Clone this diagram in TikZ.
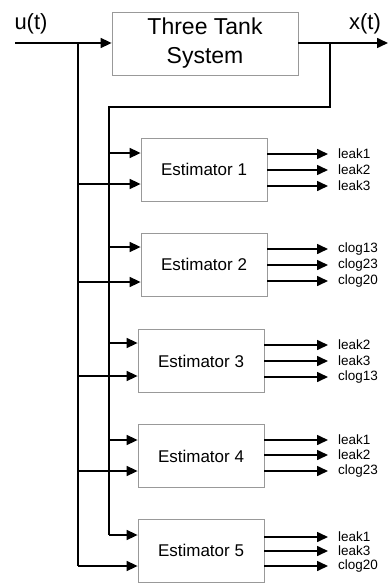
\documentclass[tikz,border=0pt]{standalone}
\usepackage{fontspec}
\setmainfont{Liberation Sans}
\usetikzlibrary{arrows.meta}
\begin{document}
\begin{tikzpicture}[x=1pt,y=-1pt,
  blk/.style={draw=black!40,line width=0.8pt,fill=white,inner sep=0pt,align=center},
  sysbox/.style={blk,minimum width=186pt,minimum height=63pt,font=\fontsize{23}{29}\selectfont},
  estbox/.style={blk,minimum width=126pt,minimum height=63pt,font=\fontsize{17}{20}\selectfont},
  wire/.style={line width=1.6pt,black},
  arr/.style={wire,-{Triangle[length=11pt,width=10pt]}},
  sig/.style={font=\fontsize{22}{26}\selectfont,inner sep=0pt},
  outlbl/.style={font=\fontsize{13.5}{15}\selectfont,anchor=west,inner sep=0pt}]
\useasboundingbox (0,0) rectangle (388,583);
\fill[white] (0,0) rectangle (388,583);

% system
\node[sysbox] (sys) at (205,43.5) {Three Tank\\System};
\coordinate (uin) at (15,43);
\coordinate (xout) at (388,43);
\node[sig] (ulbl) at (31,24) {u(t)};
\node[sig] (xlbl) at (365,24) {x(t)};
\draw[arr] (uin) -- (uin -| sys.west);
\draw[arr] (sys.east |- xout) -- (xout);

% branch points
\coordinate (ub) at (78,43);
\coordinate (xb) at (330,43);
\coordinate (xc) at (330,107);
\coordinate (xd) at (109,107);

% estimators
\node[estbox] (e1) at (204,169.5) {Estimator 1};
\node[estbox] (e2) at (204,264.5) {Estimator 2};
\node[estbox] (e3) at (201,361) {Estimator 3};
\node[estbox] (e4) at (201,456) {Estimator 4};
\node[estbox] (e5) at (201,550.5) {Estimator 5};

% x(t) feedback bus
\draw[wire] (xb) -- (xc) -- (xd) -- (109,535);
% u(t) bus
\draw[wire] (ub) -- (78,566);

% inputs
\foreach \e/\ya/\yb in {e1/153/184, e2/247/282, e3/343/376, e4/440/471, e5/535/566}{
  \coordinate (\e ia) at (109,\ya);
  \coordinate (\e ib) at (78,\yb);
  \draw[arr] (\e ia) -- (\e ia -| \e.west);
  \draw[arr] (\e ib) -- (\e ib -| \e.west);
}

% outputs
\foreach \e/\ya/\yb/\yc/\la/\lb/\lc in {
  e1/154/170/186/leak1/leak2/leak3,
  e2/249/265/281/clog13/clog23/clog20,
  e3/345/361/377/leak2/leak3/clog13,
  e4/440/455/471/leak1/leak2/clog23,
  e5/537/551/566/leak1/leak3/clog20}{
  \coordinate (\e oa) at (328,\ya);
  \coordinate (\e ob) at (328,\yb);
  \coordinate (\e oc) at (328,\yc);
  \draw[arr] (\e oa -| \e.east) -- (\e oa);
  \draw[arr] (\e ob -| \e.east) -- (\e ob);
  \draw[arr] (\e oc -| \e.east) -- (\e oc);
  \node[outlbl] (\e la) at (338,\ya) {\la};
  \node[outlbl] (\e lb) at (338,\yb) {\lb};
  \node[outlbl] (\e lc) at (338,\yc) {\lc};
}
\end{tikzpicture}
\end{document}
